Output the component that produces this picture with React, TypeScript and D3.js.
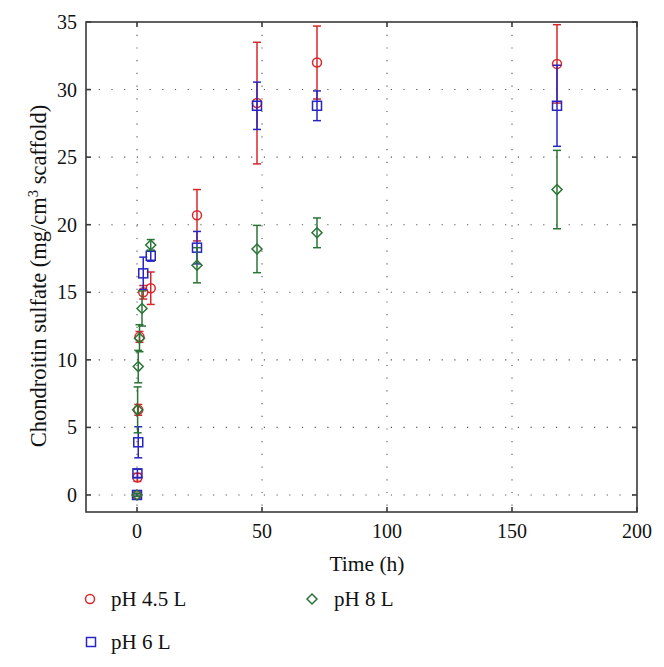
import React from "react";
import * as d3 from "d3";

const redTimes = [0, 0.17, 0.5, 1, 2.5, 5.5, 24, 48, 72, 168];
const redValues = [0, 1.3, 6.3, 11.7, 15.0, 15.3, 20.7, 29.0, 32.0, 31.9];
const redErrors = [0.1, 0.3, 0.4, 0.4, 0.5, 1.2, 1.9, 4.5, 2.7, 2.9];

const blueTimes = [0, 0.17, 0.5, 2.5, 5.5, 24, 48, 72, 168];
const blueValues = [0, 1.6, 3.9, 16.4, 17.7, 18.3, 28.8, 28.8, 28.8];
const blueErrors = [0.1, 0.3, 1.15, 1.2, 0.4, 1.2, 1.75, 1.1, 3.0];

const greenTimes = [0, 0.25, 0.5, 1, 2, 5.5, 24, 48, 72, 168];
const greenValues = [0, 6.3, 9.5, 11.6, 13.8, 18.5, 17.0, 18.2, 19.4, 22.6];
const greenErrors = [0.1, 1.7, 1.2, 1.0, 1.3, 0.4, 1.3, 1.75, 1.1, 2.9];

const xTicks = [0, 50, 100, 150, 200];
const yTicks = [0, 5, 10, 15, 20, 25, 30, 35];

const RED = "#d8262b";
const BLUE = "#2626c4";
const GREEN = "#2a7436";
const FONT = "'Liberation Serif', 'DejaVu Serif', serif";

type Series = { name: string; t: number[]; v: number[]; e: number[]; color: string; shape: string };
const series: Series[] = [
  { name: "pH 4.5 L", t: redTimes, v: redValues, e: redErrors, color: RED, shape: "circle" },
  { name: "pH 6 L", t: blueTimes, v: blueValues, e: blueErrors, color: BLUE, shape: "square" },
  { name: "pH 8 L", t: greenTimes, v: greenValues, e: greenErrors, color: GREEN, shape: "diamond" },
];

function Marker({ shape, x, y, color }: { shape: string; x: number; y: number; color: string }) {
  if (shape === "circle") return <circle cx={x} cy={y} r={4.5} fill="none" stroke={color} strokeWidth={1.5} />;
  if (shape === "square") return <rect x={x - 4.5} y={y - 4.5} width={9} height={9} fill="none" stroke={color} strokeWidth={1.5} />;
  return <path d={`M${x},${y - 5}L${x + 5},${y}L${x},${y + 5}L${x - 5},${y}Z`} fill="none" stroke={color} strokeWidth={1.5} />;
}

export default function App() {
  const W = 664, H = 667;
  const left = 86, right = 637, top = 22, bottom = 512;
  const x = d3.scaleLinear().domain([-20.4, 200]).range([left, right]);
  const y = d3.scaleLinear().domain([-1.26, 35]).range([bottom, top]);
  const tl = 5;
  const frame = "#3a3a3a";
  return (
    <svg width={W} height={H} style={{ position: "absolute", left: 0, top: 0, background: "#fff" }} fontFamily={FONT}>
      {xTicks.slice(0, -1).map((t) => (
        <line key={"gx" + t} x1={x(t)} x2={x(t)} y1={top} y2={bottom} stroke="#555" strokeWidth={1.1} strokeDasharray="1.2,11.5" />
      ))}
      {yTicks.slice(0, -1).map((t) => (
        <line key={"gy" + t} x1={left} x2={right} y1={y(t)} y2={y(t)} stroke="#555" strokeWidth={1.1} strokeDasharray="1.2,11.5" />
      ))}
      <rect x={left} y={top} width={right - left} height={bottom - top} fill="none" stroke={frame} strokeWidth={1.6} />
      {xTicks.map((t) => (
        <g key={"tx" + t}>
          <line x1={x(t)} x2={x(t)} y1={bottom} y2={bottom - tl} stroke={frame} strokeWidth={1.6} />
          <line x1={x(t)} x2={x(t)} y1={top} y2={top + tl} stroke={frame} strokeWidth={1.6} />
          <text x={x(t)} y={bottom + 26} textAnchor="middle" fontSize={20} fill="#111">{t}</text>
        </g>
      ))}
      {yTicks.map((t) => (
        <g key={"ty" + t}>
          <line x1={left} x2={left + tl} y1={y(t)} y2={y(t)} stroke={frame} strokeWidth={1.6} />
          <line x1={right} x2={right - tl} y1={y(t)} y2={y(t)} stroke={frame} strokeWidth={1.6} />
          <text x={left - 9} y={y(t) + 7} textAnchor="end" fontSize={20} fill="#111">{t}</text>
        </g>
      ))}
      <text x={367} y={571} textAnchor="middle" fontSize={21.5} fill="#111">Time (h)</text>
      <text transform="translate(46,276) rotate(-90)" textAnchor="middle" fontSize={22.5} fill="#111">
        Chondroitin sulfate (mg/cm<tspan dy={-8} fontSize={14.5}>3</tspan><tspan dy={8}> scaffold)</tspan>
      </text>
      {series.map((s) => (
        <g key={s.name}>
          {s.t.map((t, i) => {
            const cx = x(t);
            const y1 = y(s.v[i] + s.e[i]);
            const y0 = y(s.v[i] - s.e[i]);
            return (
              <g key={i}>
                <line x1={cx} x2={cx} y1={y0} y2={y1} stroke={s.color} strokeWidth={1.5} />
                <line x1={cx - 4} x2={cx + 4} y1={y0} y2={y0} stroke={s.color} strokeWidth={1.5} />
                <line x1={cx - 4} x2={cx + 4} y1={y1} y2={y1} stroke={s.color} strokeWidth={1.5} />
                <Marker shape={s.shape} x={cx} y={y(s.v[i])} color={s.color} />
              </g>
            );
          })}
        </g>
      ))}
      <Marker shape="circle" x={90} y={599} color={RED} />
      <text x={111} y={606} fontSize={21} fill="#111">pH 4.5 L</text>
      <Marker shape="square" x={91} y={642} color={BLUE} />
      <text x={111} y={649} fontSize={21} fill="#111">pH 6 L</text>
      <Marker shape="diamond" x={312} y={599} color={GREEN} />
      <text x={334} y={606} fontSize={21} fill="#111">pH 8 L</text>
    </svg>
  );
}
